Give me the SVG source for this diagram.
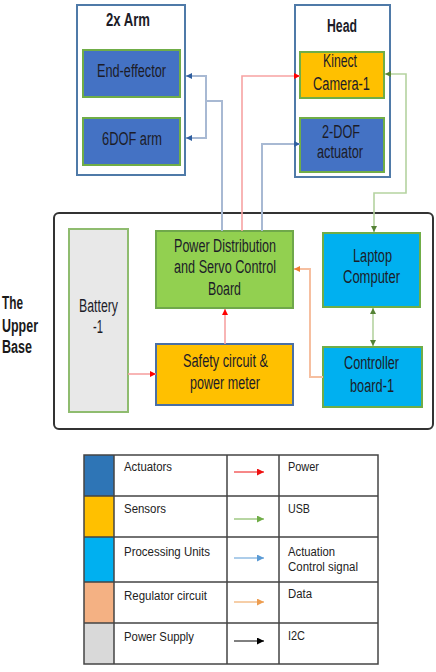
<svg xmlns="http://www.w3.org/2000/svg" width="436" height="672" viewBox="0 0 436 672">
<style>
.t{font-family:"Liberation Sans",Arial,sans-serif;font-size:18px;fill:#1c1c28}
.tb{font-family:"Liberation Sans",Arial,sans-serif;font-size:18px;font-weight:bold;fill:#1c1c28}
.lt{font-family:"Liberation Sans",Arial,sans-serif;font-size:12.5px;fill:#222}
.side{font-family:"Liberation Sans",Arial,sans-serif;font-size:18px;font-weight:bold;fill:#1a1a1a}
.grp{fill:#fff;stroke:#4f7aa8;stroke-width:2}
.act{fill:#4472c4;stroke:#70ad47;stroke-width:2}
.sen{fill:#ffc000;stroke:#70ad47;stroke-width:2}
.pu{fill:#00b0f0;stroke:#70ad47;stroke-width:2}
.pd{fill:#92d050;stroke:#6fa84a;stroke-width:2}
.bat{fill:#e8e8e8;stroke:#8fbc6f;stroke-width:2}
.c-red{fill:none;stroke:#f7a3a3;stroke-width:1.6}
.c-blue{fill:none;stroke:#a8b9d3;stroke-width:2}
.c-green{fill:none;stroke:#b5d3a0;stroke-width:1.6}
.c-orange{fill:none;stroke:#f6bfa0;stroke-width:2}
.tab{fill:none;stroke:#444;stroke-width:1.5}
</style>
<defs>
<marker id="aR" viewBox="0 0 10 10" refX="10" refY="5" markerWidth="6" markerHeight="6" markerUnits="userSpaceOnUse" orient="auto-start-reverse"><path d="M0,0 L10,5 L0,10 z" fill="#ff0000"/></marker>
<marker id="aB" viewBox="0 0 10 10" refX="10" refY="5" markerWidth="6" markerHeight="6" markerUnits="userSpaceOnUse" orient="auto-start-reverse"><path d="M0,0 L10,5 L0,10 z" fill="#2f5fa0"/></marker>
<marker id="aG" viewBox="0 0 10 10" refX="10" refY="5" markerWidth="6" markerHeight="6" markerUnits="userSpaceOnUse" orient="auto-start-reverse"><path d="M0,0 L10,5 L0,10 z" fill="#548235"/></marker>
<marker id="aO" viewBox="0 0 10 10" refX="10" refY="5" markerWidth="6" markerHeight="6" markerUnits="userSpaceOnUse" orient="auto-start-reverse"><path d="M0,0 L10,5 L0,10 z" fill="#ed7d31"/></marker>
<marker id="lR" viewBox="0 0 10 10" refX="10" refY="5" markerWidth="7" markerHeight="7" markerUnits="userSpaceOnUse" orient="auto"><path d="M0,0 L10,5 L0,10 z" fill="#ee1111"/></marker>
<marker id="lG" viewBox="0 0 10 10" refX="10" refY="5" markerWidth="7" markerHeight="7" markerUnits="userSpaceOnUse" orient="auto"><path d="M0,0 L10,5 L0,10 z" fill="#70ad47"/></marker>
<marker id="lB" viewBox="0 0 10 10" refX="10" refY="5" markerWidth="7" markerHeight="7" markerUnits="userSpaceOnUse" orient="auto"><path d="M0,0 L10,5 L0,10 z" fill="#5b9bd5"/></marker>
<marker id="lO" viewBox="0 0 10 10" refX="10" refY="5" markerWidth="7" markerHeight="7" markerUnits="userSpaceOnUse" orient="auto"><path d="M0,0 L10,5 L0,10 z" fill="#ed9d50"/></marker>
<marker id="lK" viewBox="0 0 10 10" refX="10" refY="5" markerWidth="7" markerHeight="7" markerUnits="userSpaceOnUse" orient="auto"><path d="M0,0 L10,5 L0,10 z" fill="#000"/></marker>
</defs>
<rect width="436" height="672" fill="#fff"/>

<g id="upper-base">
<rect x="54" y="213" width="379" height="216" rx="5" fill="none" stroke="#333" stroke-width="2"/>
<text class="side" x="2" y="309" textLength="21" lengthAdjust="spacingAndGlyphs">The</text>
<text class="side" x="2" y="332" textLength="36" lengthAdjust="spacingAndGlyphs">Upper</text>
<text class="side" x="2" y="353" textLength="30" lengthAdjust="spacingAndGlyphs">Base</text>
</g>

<g id="arm-group">
<rect class="grp" x="77" y="5" width="108" height="170"/>
<text class="tb" x="106" y="26" textLength="44" lengthAdjust="spacingAndGlyphs">2x Arm</text>
</g>
<g id="end-effector">
<rect class="act" x="83" y="50" width="97" height="47"/>
<text class="t" x="97" y="77" textLength="69" lengthAdjust="spacingAndGlyphs">End-effector</text>
</g>
<g id="arm-6dof">
<rect class="act" x="83" y="118" width="97" height="47"/>
<text class="t" x="102" y="145" textLength="60" lengthAdjust="spacingAndGlyphs">6DOF arm</text>
</g>

<g id="head-group">
<rect class="grp" x="295" y="5" width="95" height="172"/>
<text class="tb" x="327" y="32" textLength="30" lengthAdjust="spacingAndGlyphs">Head</text>
</g>
<g id="kinect">
<rect class="sen" x="300" y="52" width="84" height="46"/>
<text class="t" x="323" y="67" textLength="34" lengthAdjust="spacingAndGlyphs">Kinect</text>
<text class="t" x="313" y="90" textLength="57" lengthAdjust="spacingAndGlyphs">Camera-1</text>
</g>
<g id="dof2">
<rect class="act" x="300" y="118" width="84" height="54"/>
<text class="t" x="322" y="138" textLength="38" lengthAdjust="spacingAndGlyphs">2-DOF</text>
<text class="t" x="317" y="158" textLength="46" lengthAdjust="spacingAndGlyphs">actuator</text>
</g>

<g id="battery">
<rect class="bat" x="69" y="229" width="59" height="183"/>
<text class="t" x="79" y="312" textLength="39" lengthAdjust="spacingAndGlyphs">Battery</text>
<text class="t" x="93" y="333" textLength="10" lengthAdjust="spacingAndGlyphs">-1</text>
</g>
<g id="power-dist">
<rect class="pd" x="156" y="231" width="137" height="77"/>
<text class="t" x="174" y="252" textLength="102" lengthAdjust="spacingAndGlyphs">Power Distribution</text>
<text class="t" x="174" y="273" textLength="102" lengthAdjust="spacingAndGlyphs">and Servo Control</text>
<text class="t" x="208" y="295" textLength="33" lengthAdjust="spacingAndGlyphs">Board</text>
</g>
<g id="safety">
<rect x="156" y="344" width="137" height="61" fill="#ffc000" stroke="#4a6fa5" stroke-width="2"/>
<text class="t" x="183" y="367" textLength="85" lengthAdjust="spacingAndGlyphs">Safety circuit &amp;</text>
<text class="t" x="190" y="389" textLength="70" lengthAdjust="spacingAndGlyphs">power meter</text>
</g>
<g id="laptop">
<rect class="pu" x="323" y="233" width="97" height="74"/>
<text class="t" x="353" y="262" textLength="39" lengthAdjust="spacingAndGlyphs">Laptop</text>
<text class="t" x="343" y="283" textLength="57" lengthAdjust="spacingAndGlyphs">Computer</text>
</g>
<g id="controller">
<rect class="pu" x="323" y="347" width="99" height="60"/>
<text class="t" x="344" y="369" textLength="55" lengthAdjust="spacingAndGlyphs">Controller</text>
<text class="t" x="350" y="392" textLength="44" lengthAdjust="spacingAndGlyphs">board-1</text>
</g>

<g id="connectors">
<path class="c-blue" d="M222,231 V101 H206 V76 H186" marker-end="url(#aB)"/>
<path class="c-blue" d="M206,101 V138 H186" marker-end="url(#aB)"/>
<path class="c-red" d="M242,231 V76 H300" marker-end="url(#aR)"/>
<path class="c-blue" d="M262,231 V144 H300" marker-end="url(#aB)"/>
<path class="c-green" d="M385,74 H406 V193 H374 V232" marker-start="url(#aG)" marker-end="url(#aG)"/>
<path class="c-red" d="M128,374 H156" marker-end="url(#aR)"/>
<path class="c-red" d="M225,344 V309" marker-end="url(#aR)"/>
<path class="c-green" d="M373,308 V346" marker-start="url(#aG)" marker-end="url(#aG)"/>
<path class="c-orange" d="M323,377 H310 V269 H294" marker-end="url(#aO)"/>
</g>

<g id="legend">
<rect x="84" y="455" width="30" height="41" fill="#2e75b6"/>
<rect x="84" y="496" width="30" height="41" fill="#ffc000"/>
<rect x="84" y="537" width="30" height="45" fill="#00b0f0"/>
<rect x="84" y="582" width="30" height="41" fill="#f4b183"/>
<rect x="84" y="623" width="30" height="41" fill="#d9d9d9"/>
<rect class="tab" x="84" y="455" width="294" height="209"/>
<path class="tab" d="M84,496 H378 M84,537 H378 M84,582 H378 M84,623 H378 M114,455 V664 M227,455 V664 M279,455 V664"/>
<text class="lt" x="124" y="471" textLength="48" lengthAdjust="spacingAndGlyphs">Actuators</text>
<text class="lt" x="124" y="513" textLength="42" lengthAdjust="spacingAndGlyphs">Sensors</text>
<text class="lt" x="124" y="556" textLength="86" lengthAdjust="spacingAndGlyphs">Processing Units</text>
<text class="lt" x="124" y="600" textLength="83" lengthAdjust="spacingAndGlyphs">Regulator circuit</text>
<text class="lt" x="124" y="641" textLength="70" lengthAdjust="spacingAndGlyphs">Power Supply</text>
<text class="lt" x="288" y="471" textLength="31" lengthAdjust="spacingAndGlyphs">Power</text>
<text class="lt" x="288" y="513" textLength="22" lengthAdjust="spacingAndGlyphs">USB</text>
<text class="lt" x="288" y="556" textLength="47" lengthAdjust="spacingAndGlyphs">Actuation</text>
<text class="lt" x="288" y="571" textLength="70" lengthAdjust="spacingAndGlyphs">Control signal</text>
<text class="lt" x="288" y="598" textLength="24" lengthAdjust="spacingAndGlyphs">Data</text>
<text class="lt" x="288" y="640" textLength="17" lengthAdjust="spacingAndGlyphs">I2C</text>
<path d="M234,472 H264" stroke="#ee1111" stroke-width="1" marker-end="url(#lR)"/>
<path d="M234,519 H264" stroke="#70ad47" stroke-width="1" marker-end="url(#lG)"/>
<path d="M234,558 H264" stroke="#5b9bd5" stroke-width="1" marker-end="url(#lB)"/>
<path d="M234,602 H264" stroke="#ed9d50" stroke-width="1" marker-end="url(#lO)"/>
<path d="M234,641 H264" stroke="#000" stroke-width="1" marker-end="url(#lK)"/>
</g>
</svg>
